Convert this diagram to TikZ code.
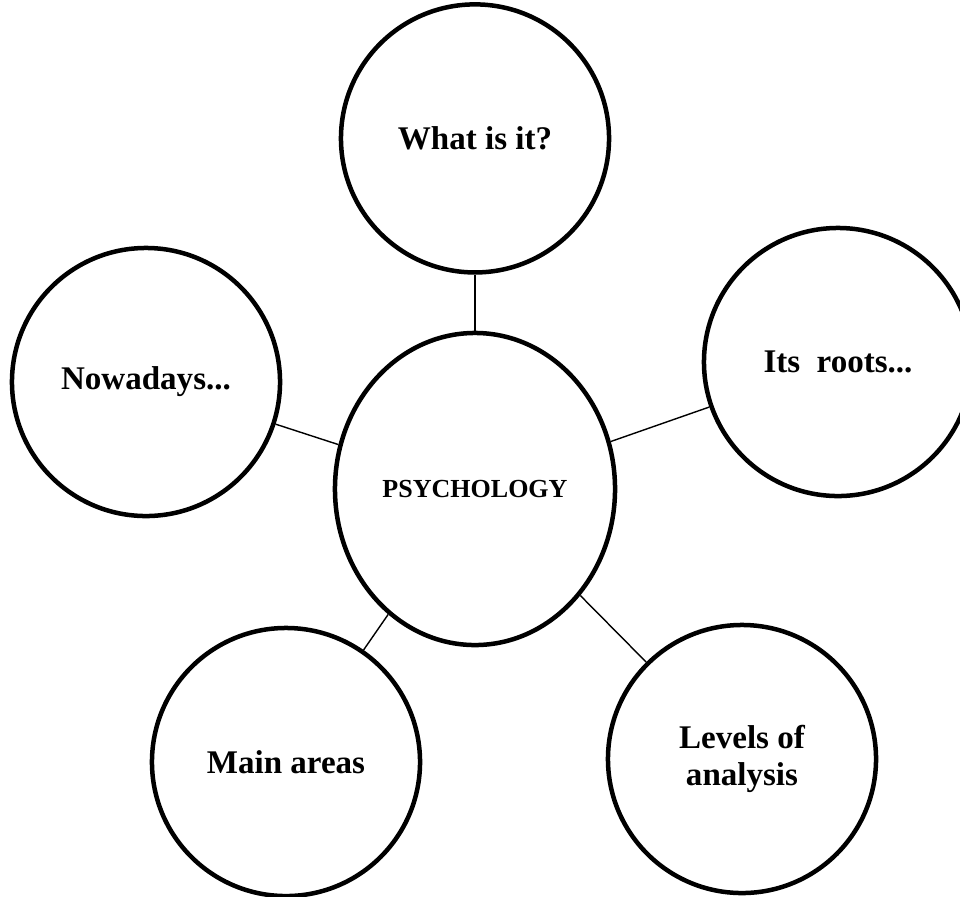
\documentclass[tikz,border=0pt]{standalone}
\usepackage{fontspec}
\setmainfont{Liberation Serif}
\usetikzlibrary{positioning,shapes.geometric}

\begin{document}
\begin{tikzpicture}[x=0.025cm, y=-0.025cm, node distance=1.4cm,
    topic/.style={circle, draw, line width=3.2pt, minimum size=6.7cm, inner sep=0pt,
                  align=center, font=\fontsize{23.5}{26.5}\selectfont\bfseries},
    hub/.style={ellipse, draw, line width=3.2pt, minimum width=7cm, minimum height=7.8cm,
                inner sep=0pt, font=\fontsize{18.5}{22}\selectfont\bfseries},
    link/.style={line width=1pt}]

    \useasboundingbox (0,0) rectangle (960,896);

    \node[hub]                     (psy)    at (475,489) {PSYCHOLOGY};
    \node[topic, above=of psy]     (what)   {What is it?};
    \node[topic]                   (roots)  at (838,362) {Its\ \ roots...};
    \node[topic]                   (now)    at (146,382) {Nowadays...};
    \node[topic]                   (areas)  at (286,762) {Main areas};
    \node[topic]                   (levels) at (742,759) {Levels of\\analysis};

    \foreach \n in {what,roots,now,areas,levels}
        \draw[link] (psy) -- (\n);

\end{tikzpicture}
\end{document}
